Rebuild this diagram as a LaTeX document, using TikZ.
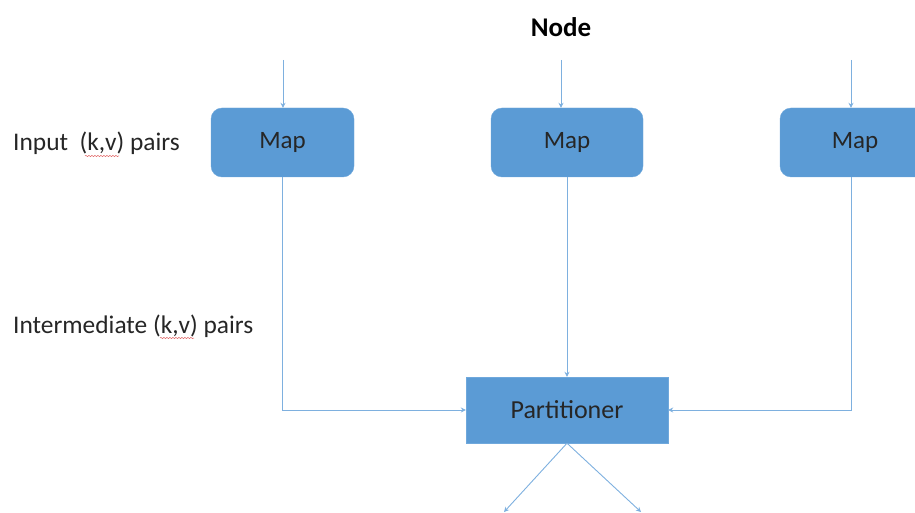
\documentclass[tikz,border=0pt]{standalone}
\usepackage{fontspec}
\setmainfont{Carlito}
\usetikzlibrary{arrows.meta,decorations.pathmorphing}
\definecolor{boxblue}{HTML}{5B9BD5}
\definecolor{boxedge}{HTML}{6FA8DC}
\definecolor{linkblue}{HTML}{7EB0DF}
\definecolor{spellred}{HTML}{E06060}
\begin{document}
\begin{tikzpicture}[x=1pt,y=-1pt,
  mapbox/.style={draw=boxedge,fill=boxblue,rounded corners=11pt,minimum width=143pt,minimum height=69pt,inner sep=0pt,font=\fontsize{25}{28}\selectfont,text=black!85},
  partbox/.style={draw=boxedge,fill=boxblue,minimum width=202pt,minimum height=66pt,inner sep=0pt,font=\fontsize{26}{29}\selectfont,text=black!85},
  label/.style={anchor=west,inner sep=0pt,font=\fontsize{25.4}{28}\selectfont,text=black!85},
  link/.style={draw=linkblue,line width=0.9pt,-{Stealth[length=5pt,width=5pt]}},
  squiggle/.style={draw=spellred,line width=0.5pt,decorate,decoration={snake,amplitude=0.6pt,segment length=3pt}}]
\useasboundingbox (0,0) rectangle (915,513);
\clip (0,0) rectangle (915,513);

% title
\node[font=\bfseries\fontsize{27}{30}\selectfont] (title) at (561,27) {Node};

% map tasks
\node[mapbox] (m1) at (282.5,142.5) {Map};
\node[mapbox,minimum width=152pt] (m2) at (567,142.5) {Map};
\node[mapbox,minimum width=150pt] (m3) at (855,142.5) {Map};

% partitioner
\node[partbox] (part) at (567,410) {Partitioner};

% row labels
\node[label] (lin) at (13,143) {Input\ \ (k,v) pairs};
\node[label] (lmid) at (13,326) {Intermediate (k,v) pairs};
\draw[squiggle] (85,156) -- (119,156);
\draw[squiggle] (160,338) -- (194,338);

% incoming records
\coordinate (in1) at (283,60);
\coordinate (in2) at (561,60);
\coordinate (in3) at (851,60);
\draw[link] (in1) -- (in1 |- m1.north);
\draw[link] (in2) -- (in2 |- m2.north);
\draw[link] (in3) -- (in3 |- m3.north);

% map outputs into the partitioner
\draw[link] (m1.south) |- (part.west);
\draw[link] (m2.south) -- (part.north);
\draw[link] (m3.south -| in3) |- (part.east);

% partitioner outputs
\coordinate (o1) at (504,512);
\coordinate (o2) at (641,512);
\draw[link] (part.south) -- (o1);
\draw[link] (part.south) -- (o2);
\end{tikzpicture}
\end{document}
